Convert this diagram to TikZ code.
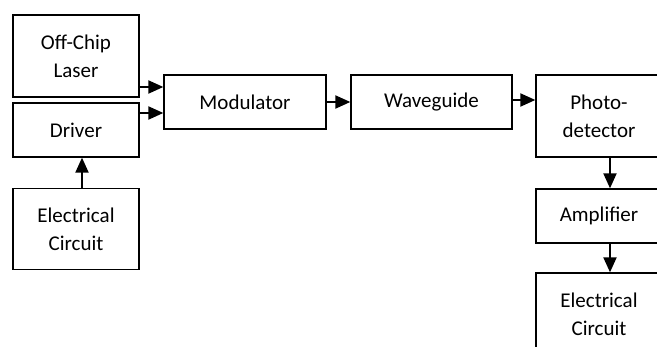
\documentclass[tikz,border=0pt]{standalone}
\usepackage{fontspec}
\setmainfont{Carlito}
\usetikzlibrary{arrows.meta}
\begin{document}
\begin{tikzpicture}[x=1pt,y=-1pt,
  blk/.style={draw, line width=1.3pt, inner sep=0pt, align=center,
    minimum width=126pt, font=\fontsize{21}{28}\selectfont},
  link/.style={line width=2pt, -{Triangle[length=15pt,width=13pt]}}]
\useasboundingbox (0,0) rectangle (657,347);
\clip (0,0) rectangle (657,347);
% transmitter side
\node[blk, minimum height=82pt] (laser) at (76,56) {Off-Chip\\Laser};
\node[blk, minimum height=54pt] (driver) at (76,130) {Driver};
\node[blk, minimum height=81pt] (circL) at (76,229) {Electrical\\Circuit};
% optical path
\node[blk, minimum width=162pt, minimum height=54pt] (mod) at (245,102) {Modulator};
\node[blk, minimum width=161pt, minimum height=54pt] (wave) at (431.5,102) {Waveguide};
% receiver side
\node[blk, minimum height=82pt] (photo) at (599,116) {Photo-\\detector};
\node[blk, minimum height=54pt] (amp) at (599,216) {Amplifier};
\node[blk, minimum height=82pt] (circR) at (599,314) {Electrical\\Circuit};
% connectors
\draw[link] (laser.east |- 0,87) -- (mod.west |- 0,87);
\draw[link] (driver.east |- 0,113) -- (mod.west |- 0,113);
\draw[link] (circL.north -| 82,0) -- (driver.south -| 82,0);
\draw[link] (mod.east) -- (wave.west);
\draw[link] (wave.east |- 0,100) -- (photo.west |- 0,100);
\draw[link] (photo.south -| 610,0) -- (amp.north -| 610,0);
\draw[link] (amp.south -| 610,0) -- (circR.north -| 610,0);
\end{tikzpicture}
\end{document}
